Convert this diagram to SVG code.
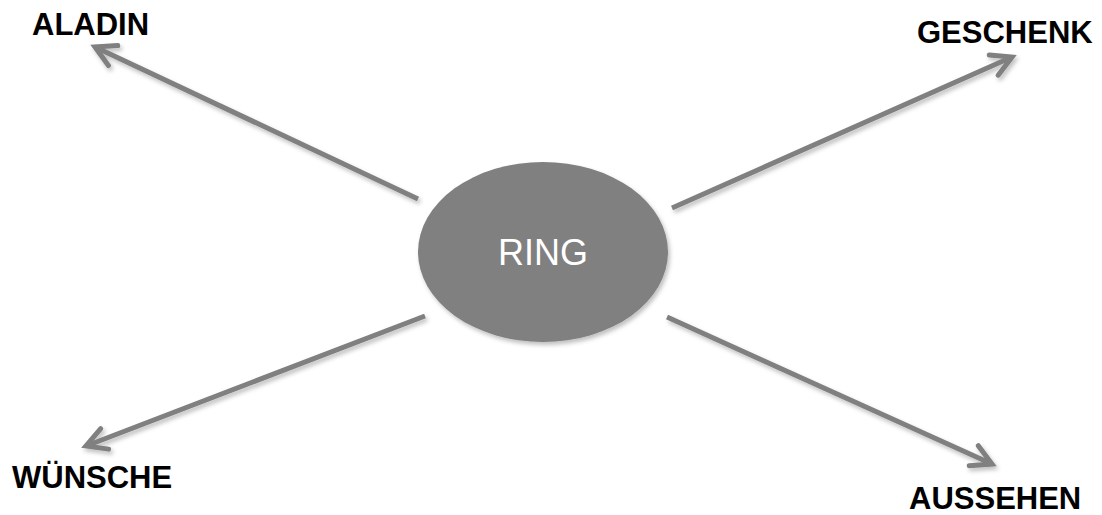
<svg xmlns="http://www.w3.org/2000/svg" width="1102" height="515" viewBox="0 0 1102 515">
<defs>
<style>
.lbl{font-family:"Liberation Sans",Arial,sans-serif;font-weight:bold;font-size:31px;fill:#000}
.ring{font-family:"Liberation Sans",Arial,sans-serif;font-size:36px;fill:#fff}
.con{stroke:#808080;stroke-width:5;fill:none;marker-end:url(#arr)}
</style>
<filter id="sh" x="-20%" y="-20%" width="140%" height="140%">
<feDropShadow dx="2" dy="3" stdDeviation="2" flood-color="#000" flood-opacity="0.25"/>
</filter>
<marker id="arr" markerUnits="userSpaceOnUse" markerWidth="40" markerHeight="40" viewBox="-30 -20 40 40" refX="0" refY="0" orient="auto">
<path d="M -20,-11 L 0,0 L -20,11" fill="none" stroke="#808080" stroke-width="5" stroke-linecap="round" stroke-linejoin="miter"/>
</marker>
</defs>
<rect width="1102" height="515" fill="#fff"/>
<g id="connectors" filter="url(#sh)">
<line class="con" x1="418" y1="199" x2="95" y2="47"/>
<line class="con" x1="672" y1="208" x2="1012" y2="57"/>
<line class="con" x1="425" y1="316" x2="86" y2="446"/>
<line class="con" x1="667" y1="317" x2="992" y2="464"/>
</g>
<g id="ring">
<ellipse cx="543" cy="252" rx="125" ry="90" fill="#808080" filter="url(#sh)"/>
<text class="ring" x="543" y="265" text-anchor="middle">RING</text>
</g>
<g id="aladin"><text class="lbl" x="32" y="35">ALADIN</text></g>
<g id="geschenk"><text class="lbl" x="917" y="43">GESCHENK</text></g>
<g id="wuensche"><text class="lbl" x="12" y="488">WÜNSCHE</text></g>
<g id="aussehen"><text class="lbl" x="909" y="509">AUSSEHEN</text></g>
</svg>
